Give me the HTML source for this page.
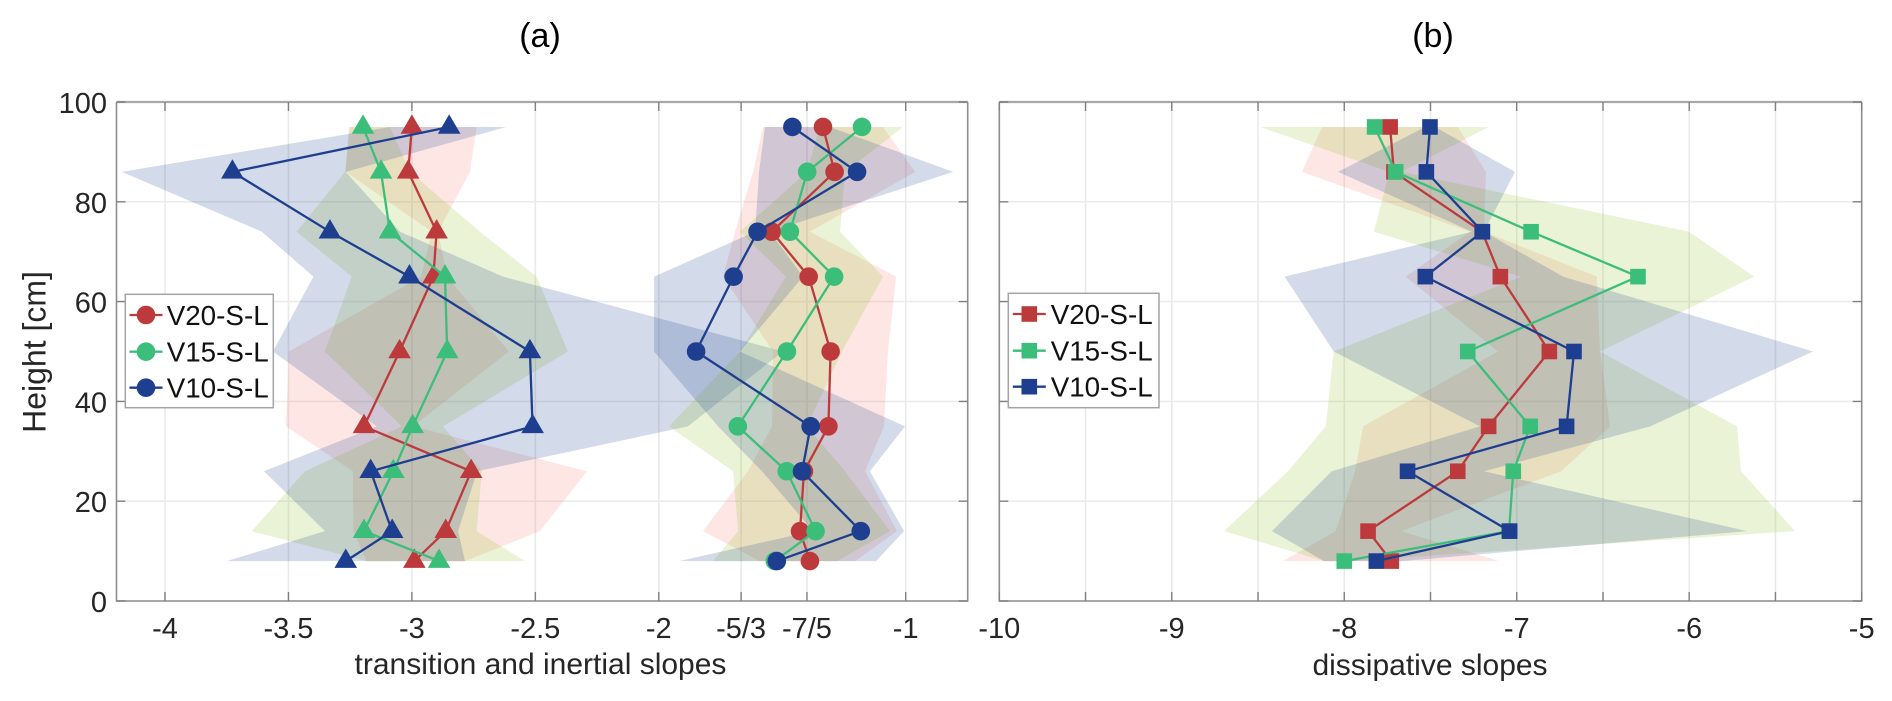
<!DOCTYPE html>
<html>
<head>
<meta charset="utf-8">
<title>Slopes vs height</title>
<style>
html,body{margin:0;padding:0;background:#fff;}
svg{display:block;}
text{font-family:"Liberation Sans",sans-serif;}
</style>
</head>
<body>
<svg id="chart" xmlns="http://www.w3.org/2000/svg" width="1892" height="701" viewBox="0 0 1892 701">
<rect x="0" y="0" width="1892" height="701" fill="#ffffff"/>
<g id="panelA"></g>
<g id="panelB"></g>
</svg>
<script>
// ---- shared data ----
const heights = [95, 86, 74, 65, 50, 35, 26, 14, 8];
const seriesNames = ['V20-S-L', 'V15-S-L', 'V10-S-L'];
const yTickValues = [0, 20, 40, 60, 80, 100];

// ---- panel (a) axis ----
const aTickValues = [-4, -3.5, -3, -2.5, -2, -5/3, -7/5, -1];
const aTickLabels = ['-4', '-3.5', '-3', '-2.5', '-2', '-5/3', '-7/5', '-1'];

// ---- panel (a) transition slopes (triangles) ----
const transV20 = [-3.00, -3.015, -2.90, -2.913, -3.05, -3.194, -2.76, -2.863, -2.99];
const transV15 = [-3.198, -3.125, -3.089, -2.866, -2.857, -2.997, -3.075, -3.194, -2.89];
const transV10 = [-2.849, -3.727, -3.332, -3.01, -2.522, -2.511, -3.167, -3.08, -3.268];
const transV20Low = [-3.255, -3.268, -2.919, -2.963, -3.498, -3.510, -3.239, -3.237, -3.183];
const transV20High = [-2.738, -2.765, -2.894, -2.858, -2.607, -2.996, -2.291, -2.481, -2.785];
const transV15Low = [-3.251, -3.271, -3.467, -3.244, -3.352, -3.041, -3.433, -3.649, -3.183];
const transV15High = [-3.089, -3.008, -2.724, -2.495, -2.368, -2.874, -2.717, -2.738, -2.542];
const transV10Low = [-3.089, -4.175, -3.608, -3.399, -3.563, -3.143, -3.599, -3.352, -3.750];
const transV10High = [-2.619, -3.268, -3.048, -2.631, -1.497, -1.882, -2.736, -2.813, -2.785];

// ---- panel (a) inertial slopes (circles) ----
const inerV20 = [-1.335, -1.288, -1.542, -1.393, -1.304, -1.313, -1.412, -1.428, -1.388];
const inerV15 = [-1.177, -1.399, -1.469, -1.29, -1.481, -1.68, -1.482, -1.365, -1.53];
const inerV10 = [-1.459, -1.197, -1.6, -1.697, -1.849, -1.385, -1.42, -1.182, -1.522];
const inerV20Low = [-1.578, -1.618, -1.691, -1.740, -1.537, -1.541, -1.639, -1.821, -1.590];
const inerV20High = [-1.092, -0.962, -1.388, -1.039, -1.072, -1.088, -1.165, -1.035, -1.205];
const inerV15Low = [-1.347, -1.400, -1.671, -1.485, -1.671, -1.959, -1.699, -1.679, -1.781];
const inerV15High = [-1.011, -1.246, -1.266, -1.092, -1.258, -1.400, -1.246, -1.064, -1.278];
const inerV10Low = [-1.570, -1.594, -1.610, -2.019, -2.019, -1.760, -1.582, -1.375, -1.918];
const inerV10High = [-1.307, -0.808, -1.550, -1.416, -1.671, -1.003, -1.145, -1.007, -1.120];

// ---- panel (b) axis ----
const bTickValues = [-10, -9.5, -9, -8.5, -8, -7.5, -7, -6.5, -6, -5.5, -5];
const bLabelValues = [-10, -9, -8, -7, -6, -5];

// ---- panel (b) dissipative slopes (squares) ----
const dissV20 = [-7.734, -7.712, -7.201, -7.095, -6.811, -7.163, -7.342, -7.862, -7.727];
const dissV15 = [-7.824, -7.702, -6.917, -6.297, -7.284, -6.922, -7.02, -7.045, -8.0];
const dissV10 = [-7.503, -7.524, -7.199, -7.530, -6.668, -6.711, -7.633, -7.041, -7.814];
const dissV20Low = [-8.129, -8.245, -7.271, -7.644, -7.109, -7.891, -7.938, -8.050, -8.355];
const dissV20High = [-7.341, -7.178, -7.190, -6.536, -6.517, -6.459, -6.743, -7.671, -7.103];
const dissV15Low = [-8.486, -7.738, -7.828, -6.971, -8.061, -8.107, -8.326, -8.697, -8.117];
const dissV15High = [-7.163, -7.668, -6.001, -5.624, -6.517, -5.723, -5.700, -5.387, -7.973];
const dissV10Low = [-7.532, -8.036, -7.259, -8.346, -8.061, -7.213, -8.073, -8.419, -8.117];
const dissV10High = [-7.474, -7.010, -7.190, -6.732, -5.282, -6.227, -7.190, -5.665, -7.665];

// ---- styling ----
const lineColors = ['#bd3a3c', '#3cbe7b', '#1e3e8f'];
const bandColors = ['#f58278', '#96c32d', '#234691'];

// ---- axis scales ----
const NS = 'http://www.w3.org/2000/svg';
const plotTop = 102, plotBottom = 601;
function yScale(h) { return plotBottom - (h / 100) * (plotBottom - plotTop); }
const aLeft = 116.5, aRight = 967.7, bLeft = 999.3, bRight = 1861.7;
function xA(v) { return 905.7 + (v + 1) * 246.9; }
function xB(v) { return bLeft + (v + 10) * (bRight - bLeft) / 5; }

function make(parent, tag, attrs, txt) {
  const el = document.createElementNS(NS, tag);
  for (const k in attrs) el.setAttribute(k, attrs[k]);
  if (txt !== undefined) el.textContent = txt;
  parent.appendChild(el);
  return el;
}
function group(parent, name) {
  const g = make(parent, 'g', {});
  
  
  return g;
}

function drawFrame(root, left, right, xTicks, xScale, panelName) {
  const grid = group(root, panelName + '-grid');
  xTicks.forEach(function (v) {
    const gl = make(grid, 'line', {x1: xScale(v), x2: xScale(v), y1: plotTop, y2: plotBottom, stroke: '#e9e9e9', 'stroke-width': 1.6});
    
    
  });
  yTickValues.forEach(function (h) {
    const gl = make(grid, 'line', {x1: left, x2: right, y1: yScale(h), y2: yScale(h), stroke: '#ececec', 'stroke-width': 1.6});
    
    
  });
}
function drawAxes(root, left, right, xTicks, xScale, panelName) {
  const ax = group(root, panelName + '-axes');
  const box = make(ax, 'path', {d: 'M' + left + ' ' + plotTop + 'H' + right, stroke: '#a8a8a8', 'stroke-width': 2.2, fill: 'none'});
  
  
  const box2 = make(ax, 'path', {d: 'M' + right + ' ' + plotTop + 'V' + plotBottom + 'H' + left + 'V' + plotTop, stroke: '#8e8e8e', 'stroke-width': 1.6, fill: 'none'});
  
  
  xTicks.forEach(function (v) {
    const x = xScale(v);
    const t = make(ax, 'path', {d: 'M' + x + ' ' + plotTop + 'v9M' + x + ' ' + plotBottom + 'v-9', stroke: '#808080', 'stroke-width': 1.4, fill: 'none'});
    
    
  });
  yTickValues.forEach(function (h) {
    const y = yScale(h);
    const t = make(ax, 'path', {d: 'M' + left + ' ' + y + 'h9M' + right + ' ' + y + 'h-9', stroke: '#808080', 'stroke-width': 1.4, fill: 'none'});
    
    
  });
}
function drawBand(root, low, high, color, xScale, name) {
  const pts = [];
  heights.forEach(function (h, i) { pts.push(xScale(low[i]).toFixed(1) + ',' + yScale(h).toFixed(1)); });
  for (let i = heights.length - 1; i >= 0; i--) pts.push(xScale(high[i]).toFixed(1) + ',' + yScale(heights[i]).toFixed(1));
  const p = make(root, 'polygon', {points: pts.join(' '), fill: color, 'fill-opacity': 0.2, stroke: 'none'});
  
  
}
function drawMarker(parent, shape, x, y, color, scale) {
  const s = scale || 1;
  let el;
  if (shape === 'circle') {
    el = make(parent, 'circle', {cx: x, cy: y, r: 9.3 * s, fill: color});
  } else if (shape === 'triangle') {
    el = make(parent, 'polygon', {points: x + ',' + (y - 12.6) + ' ' + (x - 11.3) + ',' + (y + 6.8) + ' ' + (x + 11.3) + ',' + (y + 6.8), fill: color});
  } else {
    el = make(parent, 'rect', {x: x - 7.8 * s, y: y - 7.8 * s, width: 15.6 * s, height: 15.6 * s, fill: color});
  }
  return el;
}
function drawSeries(root, values, color, shape, xScale, name) {
  const g = group(root, name);
  const pts = values.map(function (v, i) { return xScale(v).toFixed(1) + ',' + yScale(heights[i]).toFixed(1); });
  const l = make(g, 'polyline', {points: pts.join(' '), fill: 'none', stroke: color, 'stroke-width': 2.3, 'stroke-linejoin': 'round'});
  
  
  values.forEach(function (v, i) {
    const m = drawMarker(g, shape, xScale(v), yScale(heights[i]), color);
    
    
  });
}
function drawLegend(root, x, y, w, h, markerX, textX, rowYs, shape) {
  const g = group(root, 'legend');
  const r = make(g, 'rect', {x: x, y: y, width: w, height: h, fill: '#ffffff', stroke: '#a4a4a4', 'stroke-width': 1.5});
  
  
  seriesNames.forEach(function (n, i) {
    const e = group(g, 'legend-entry');
    const ln = make(e, 'line', {x1: markerX - 16.5, x2: markerX + 16.5, y1: rowYs[i], y2: rowYs[i], stroke: lineColors[i], 'stroke-width': 2.3});
    
    
    const m = drawMarker(e, shape, markerX, rowYs[i], lineColors[i]);
    
    
    const t = make(e, 'text', {x: textX, y: rowYs[i] + 10, 'font-size': 27.8, fill: '#111111'}, n);
    
    
  });
}
function label(root, x, y, size, anchor, color, str, name, transform) {
  const attrs = {x: x, y: y, 'font-size': size, 'text-anchor': anchor, fill: color};
  if (transform) attrs.transform = transform;
  const t = make(root, 'text', attrs, str);
  
  
  return t;
}

// ---- panel (a) ----
const panelA = document.getElementById('panelA');
drawFrame(panelA, aLeft, aRight, aTickValues, xA, 'panel-a');
const bandsA = group(panelA, 'panel-a-bands');
drawBand(bandsA, transV20Low, transV20High, bandColors[0], xA, 'band-transition-v20');
drawBand(bandsA, transV15Low, transV15High, bandColors[1], xA, 'band-transition-v15');
drawBand(bandsA, transV10Low, transV10High, bandColors[2], xA, 'band-transition-v10');
drawBand(bandsA, inerV20Low, inerV20High, bandColors[0], xA, 'band-inertial-v20');
drawBand(bandsA, inerV15Low, inerV15High, bandColors[1], xA, 'band-inertial-v15');
drawBand(bandsA, inerV10Low, inerV10High, bandColors[2], xA, 'band-inertial-v10');
drawAxes(panelA, aLeft, aRight, aTickValues, xA, 'panel-a');
drawSeries(panelA, transV20, lineColors[0], 'triangle', xA, 'series-transition-v20');
drawSeries(panelA, transV15, lineColors[1], 'triangle', xA, 'series-transition-v15');
drawSeries(panelA, transV10, lineColors[2], 'triangle', xA, 'series-transition-v10');
drawSeries(panelA, inerV20, lineColors[0], 'circle', xA, 'series-inertial-v20');
drawSeries(panelA, inerV15, lineColors[1], 'circle', xA, 'series-inertial-v15');
drawSeries(panelA, inerV10, lineColors[2], 'circle', xA, 'series-inertial-v10');
drawLegend(panelA, 125.3, 294.3, 148, 113.4, 146, 166.7, [315, 351.7, 387.7], 'circle');
aTickValues.forEach(function (v, i) {
  label(panelA, xA(v), 638, 29, 'middle', '#262626', aTickLabels[i], 'x-tick-label');
});
yTickValues.forEach(function (h) {
  label(panelA, 107, yScale(h) + 11, 29, 'end', '#262626', String(h), 'y-tick-label');
});
label(panelA, 540.5, 674, 30, 'middle', '#262626', 'transition and inertial slopes', 'x-axis-title-a');
label(panelA, 0, 0, 32, 'middle', '#262626', 'Height [cm]', 'y-axis-title', 'translate(45.5 352) rotate(-90)');
label(panelA, 540, 47, 34, 'middle', '#000000', '(a)', 'panel-a-title');

// ---- panel (b) ----
const panelB = document.getElementById('panelB');
drawFrame(panelB, bLeft, bRight, bTickValues, xB, 'panel-b');
const bandsB = group(panelB, 'panel-b-bands');
drawBand(bandsB, dissV20Low, dissV20High, bandColors[0], xB, 'band-dissipative-v20');
drawBand(bandsB, dissV15Low, dissV15High, bandColors[1], xB, 'band-dissipative-v15');
drawBand(bandsB, dissV10Low, dissV10High, bandColors[2], xB, 'band-dissipative-v10');
drawAxes(panelB, bLeft, bRight, bTickValues, xB, 'panel-b');
drawSeries(panelB, dissV20, lineColors[0], 'square', xB, 'series-dissipative-v20');
drawSeries(panelB, dissV15, lineColors[1], 'square', xB, 'series-dissipative-v15');
drawSeries(panelB, dissV10, lineColors[2], 'square', xB, 'series-dissipative-v10');
drawLegend(panelB, 1008.3, 293.3, 150.7, 114.4, 1029.3, 1050.7, [314, 350.7, 386.7], 'square');
bLabelValues.forEach(function (v) {
  label(panelB, xB(v), 638, 29, 'middle', '#262626', String(v), 'x-tick-label');
});
label(panelB, 1430, 675, 30, 'middle', '#262626', 'dissipative slopes', 'x-axis-title-b');
label(panelB, 1433, 47, 34, 'middle', '#000000', '(b)', 'panel-b-title');
</script>
</body>
</html>
